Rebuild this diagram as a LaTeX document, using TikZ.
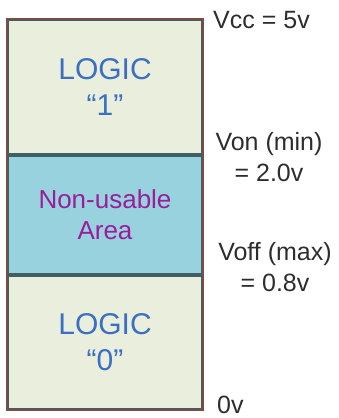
\documentclass[tikz,border=0pt]{standalone}
\usepackage{fontspec}
\setmainfont{Liberation Sans}
\usepackage{tikz}
\usetikzlibrary{arrows,%
                shapes,positioning}
\definecolor{framebrown}{HTML}{7A4C44}
\definecolor{linegrey}{HTML}{3F5F66}
\definecolor{lowhigh}{HTML}{E9EFDC}
\definecolor{badzone}{HTML}{98D2DE}
\definecolor{logicblue}{HTML}{3B6FC4}
\definecolor{badpurple}{HTML}{9A1E9A}
\definecolor{voltgrey}{HTML}{2D2D2D}

\begin{document}
\begin{tikzpicture}[x=1pt,y=1pt,
  zone/.style={draw=linegrey, line width=2pt, minimum width=194pt, inner sep=0pt, align=center},
  logic/.style={zone, fill=lowhigh, text=logicblue, font=\fontsize{30}{36}\selectfont},
  volt/.style={text=voltgrey, inner sep=0pt, align=center, font=\fontsize{25}{31}\selectfont}]
\useasboundingbox (0,0) rectangle (338,418);
\node[logic, minimum height=134pt] (high) at (105,331) {LOGIC\\“1”};
\node[zone, fill=badzone, text=badpurple, minimum height=118pt,
      font=\fontsize{26}{31}\selectfont, below=0pt of high] (mid) {Non-usable\\Area};
\node[logic, minimum height=133pt, below=0pt of mid] (low) {LOGIC\\“0”};
\draw[framebrown, line width=2.5pt] (high.north west) rectangle (low.south east);
\node[volt, anchor=base west] (vcc) at (213,389) {Vcc = 5v};
\node[volt, anchor=base] (von) at (269,236) {Von (min)\\= 2.0v};
\node[volt, anchor=base] (voff) at (275,126) {Voff (max)\\= 0.8v};
\node[volt, anchor=base west] (gnd) at (217,5) {0v};
\end{tikzpicture}
\end{document}
